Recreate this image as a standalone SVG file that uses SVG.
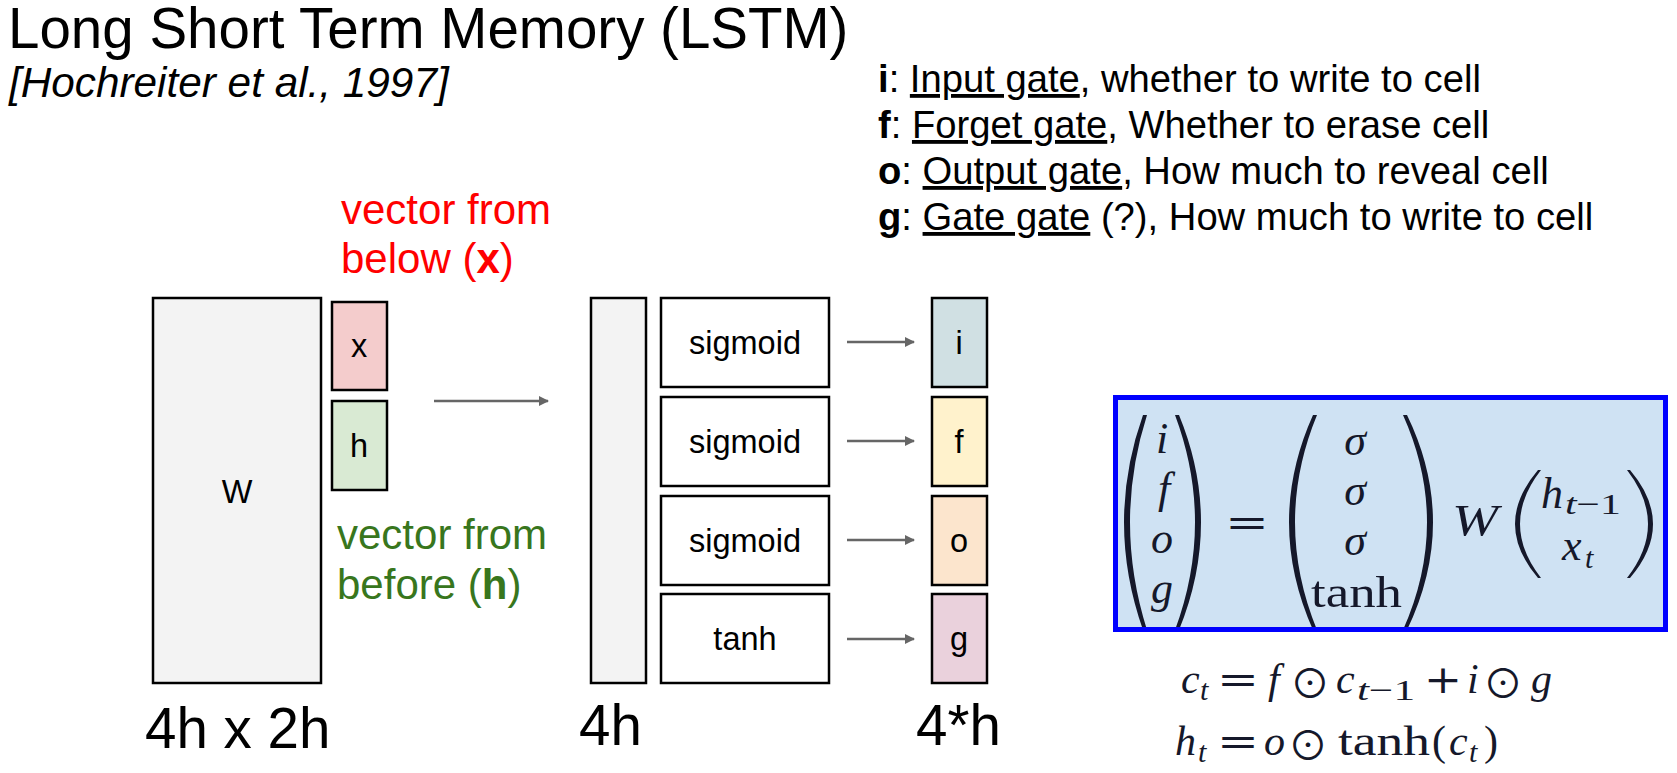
<svg xmlns="http://www.w3.org/2000/svg" width="1677" height="773" viewBox="0 0 1677 773">
<defs>
<style>
.sans{font-family:"Liberation Sans",Arial,sans-serif}
.box{stroke:#000;stroke-width:2.5}
.lbl{font-family:"Liberation Sans",Arial,sans-serif;font-size:32.5px;fill:#000;text-anchor:middle}
.big{font-family:"Liberation Sans",Arial,sans-serif;font-size:56.5px;fill:#000}
.leg{font-family:"Liberation Sans",Arial,sans-serif;font-size:38.2px;fill:#000}
.conn{stroke:#666;stroke-width:2.5;fill:none;marker-end:url(#ah)}
.mi{font-family:"Liberation Serif","Times New Roman",serif;font-style:italic;font-size:44px;fill:#15182a}
.mr{font-family:"Liberation Serif","Times New Roman",serif;font-size:44px;fill:#15182a}
.m2{font-size:42px}
.op{font-family:"DejaVu Serif",serif;font-size:40px;fill:#15182a}
.od{font-family:"Noto Sans CJK JP","DejaVu Serif",serif;font-size:40px;fill:#15182a;text-anchor:middle}
.sub{font-family:"Liberation Serif","Times New Roman",serif;font-size:30px;fill:#15182a}
.par{fill:#15182a}
</style>
<marker id="ah" viewBox="0 0 10 10" refX="9" refY="5" markerWidth="4" markerHeight="4" orient="auto" markerUnits="strokeWidth">
<path d="M0,0 L10,5 L0,10 z" fill="#666"/>
</marker>
</defs>
<rect width="1677" height="773" fill="#fff"/>

<g id="title">
<text class="big" x="8" y="48">Long Short Term Memory (LSTM)</text>
<text class="sans" x="9" y="97" font-size="42.3" font-style="italic">[Hochreiter et al., 1997]</text>
</g>

<g id="legend" class="leg">
<text x="878" y="92"><tspan font-weight="bold">i</tspan>: <tspan text-decoration="underline">Input gate</tspan>, whether to write to cell</text>
<text x="878" y="138"><tspan font-weight="bold">f</tspan>: <tspan text-decoration="underline">Forget gate</tspan>, Whether to erase cell</text>
<text x="878" y="184"><tspan font-weight="bold">o</tspan>: <tspan text-decoration="underline">Output gate</tspan>, How much to reveal cell</text>
<text x="878" y="230"><tspan font-weight="bold">g</tspan>: <tspan text-decoration="underline">Gate gate</tspan> (?), How much to write to cell</text>
</g>

<g id="label-x" class="sans" font-size="42" fill="#ff0000">
<text x="341" y="224">vector from</text>
<text x="341" y="273">below (<tspan font-weight="bold">x</tspan>)</text>
</g>
<g id="label-h" class="sans" font-size="42" fill="#38761d">
<text x="337" y="549">vector from</text>
<text x="337" y="599">before (<tspan font-weight="bold">h</tspan>)</text>
</g>

<g id="W">
<rect class="box" x="153" y="298" width="168" height="385" fill="#f3f3f3"/>
<text class="lbl" x="237" y="503">W</text>
<text class="big" x="145" y="748">4h x 2h</text>
</g>
<g id="xvec">
<rect class="box" x="332" y="302" width="55" height="88" fill="#f4cccc"/>
<text class="lbl" x="359" y="357">x</text>
</g>
<g id="hvec">
<rect class="box" x="332" y="401" width="55" height="89" fill="#d9ead3"/>
<text class="lbl" x="359" y="457">h</text>
</g>

<g id="v4h">
<rect class="box" x="591" y="298" width="55" height="385" fill="#f3f3f3"/>
<text class="big" x="579" y="745">4h</text>
</g>

<g id="act1"><rect class="box" x="661" y="298" width="168" height="89" fill="#fff"/><text class="lbl" x="745" y="354">sigmoid</text></g>
<g id="act2"><rect class="box" x="661" y="397" width="168" height="89" fill="#fff"/><text class="lbl" x="745" y="453">sigmoid</text></g>
<g id="act3"><rect class="box" x="661" y="496" width="168" height="89" fill="#fff"/><text class="lbl" x="745" y="552">sigmoid</text></g>
<g id="act4"><rect class="box" x="661" y="594" width="168" height="89" fill="#fff"/><text class="lbl" x="745" y="650">tanh</text></g>

<g id="gate-i"><rect class="box" x="932" y="298" width="55" height="89" fill="#d0e0e3"/><text class="lbl" x="959" y="354">i</text></g>
<g id="gate-f"><rect class="box" x="932" y="397" width="55" height="89" fill="#fff2cc"/><text class="lbl" x="959" y="453">f</text></g>
<g id="gate-o"><rect class="box" x="932" y="496" width="55" height="89" fill="#fce5cd"/><text class="lbl" x="959" y="552">o</text></g>
<g id="gate-g"><rect class="box" x="932" y="594" width="55" height="89" fill="#ead1dc"/><text class="lbl" x="959" y="650">g</text>
<text class="big" x="916" y="745">4*h</text></g>

<g id="connectors">
<line class="conn" x1="434" y1="401" x2="548" y2="401"/>
<line class="conn" x1="847" y1="342" x2="914" y2="342"/>
<line class="conn" x1="847" y1="441" x2="914" y2="441"/>
<line class="conn" x1="847" y1="540" x2="914" y2="540"/>
<line class="conn" x1="847" y1="639" x2="914" y2="639"/>
</g>

<g id="formula">
<rect x="1115.5" y="397.5" width="550" height="232" fill="#cfe2f3"/>
<path class="par" d="M1143,415 Q1105,522 1143,630 L1147,630 Q1113,522 1147,415 z"/>
<path class="par" d="M1179,415 Q1223,522 1179,630 L1175,630 Q1215,522 1175,415 z"/>
<text class="mi" x="1162" y="453" text-anchor="middle">i</text>
<text class="mi" x="1164" y="503" text-anchor="middle">f</text>
<text class="mi" x="1162" y="553" text-anchor="middle">o</text>
<text class="mi" x="1162" y="603" text-anchor="middle">g</text>
<text class="op" x="1225" y="536" textLength="44" lengthAdjust="spacingAndGlyphs">=</text>
<path class="par" d="M1313,415 Q1265,522 1313,630 L1317,630 Q1273,522 1317,415 z"/>
<path class="par" d="M1407,415 Q1459,522 1407,630 L1403,630 Q1451,522 1403,415 z"/>
<text class="mi" x="1355" y="455" text-anchor="middle">σ</text>
<text class="mi" x="1355" y="505" text-anchor="middle">σ</text>
<text class="mi" x="1355" y="555" text-anchor="middle">σ</text>
<text class="mr" x="1311" y="607" textLength="91" lengthAdjust="spacingAndGlyphs">tanh</text>
<text class="mi" x="1452" y="535" font-size="46" textLength="46" lengthAdjust="spacingAndGlyphs">W</text>
<path class="par" d="M1538,470 Q1492,524 1538,578 L1541,578 Q1499,524 1541,470 z"/>
<path class="par" d="M1630,470 Q1676,524 1630,578 L1627,578 Q1669,524 1627,470 z"/>
<text class="mi" x="1541" y="508">h</text>
<text class="sub" x="1565" y="514" textLength="56" lengthAdjust="spacingAndGlyphs"><tspan font-style="italic">t</tspan>−1</text>
<text class="mi" x="1562" y="560">x</text>
<text class="sub" x="1585" y="568" font-style="italic">t</text>
<rect x="1115.5" y="397.5" width="550" height="232" fill="none" stroke="#0000ff" stroke-width="5"/>
</g>

<g id="equations">
<text class="mi m2" x="1181" y="693">c</text>
<text class="sub" x="1200" y="700" font-style="italic">t</text>
<text class="op" x="1217" y="693" textLength="42" lengthAdjust="spacingAndGlyphs">=</text>
<text class="mi m2" x="1268" y="693">f</text>
<text class="od" x="1310" y="698">⊙</text>
<text class="mi m2" x="1336" y="693">c</text>
<text class="sub" x="1357" y="700" textLength="58" lengthAdjust="spacingAndGlyphs"><tspan font-style="italic">t</tspan>−1</text>
<text class="op" x="1424" y="693" textLength="38" lengthAdjust="spacingAndGlyphs">+</text>
<text class="mi m2" x="1467" y="693">i</text>
<text class="od" x="1503" y="698">⊙</text>
<text class="mi m2" x="1531" y="693">g</text>

<text class="mi m2" x="1175" y="755">h</text>
<text class="sub" x="1198" y="762" font-style="italic">t</text>
<text class="op" x="1217" y="755" textLength="42" lengthAdjust="spacingAndGlyphs">=</text>
<text class="mi m2" x="1264" y="755">o</text>
<text class="od" x="1308" y="760">⊙</text>
<text class="mr m2" x="1338" y="755" textLength="92" lengthAdjust="spacingAndGlyphs">tanh</text>
<text class="mr m2" x="1432" y="755">(</text>
<text class="mi m2" x="1449" y="755">c</text>
<text class="sub" x="1469" y="762" font-style="italic">t</text>
<text class="mr m2" x="1484" y="755">)</text>
</g>
</svg>
